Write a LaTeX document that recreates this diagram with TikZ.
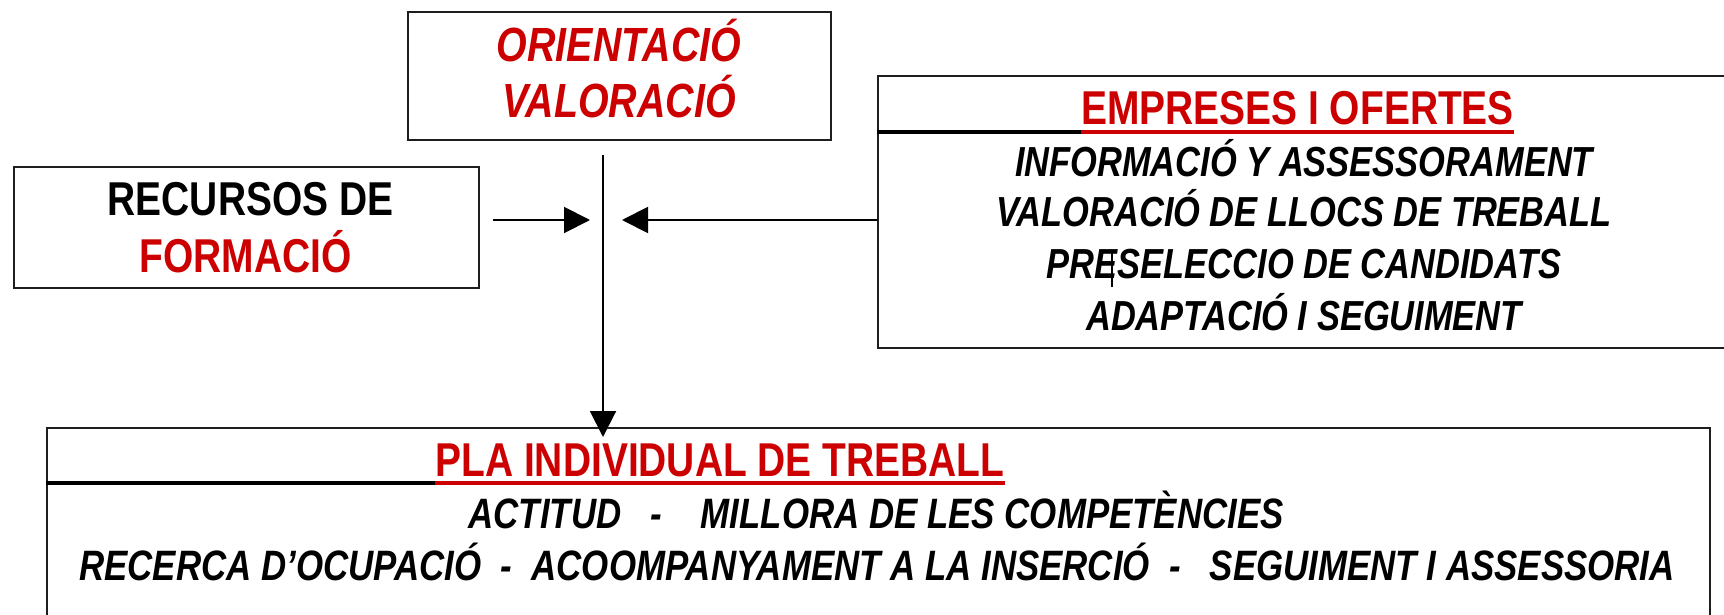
\documentclass[tikz,border=0pt]{standalone}
\usepackage{fontspec}
\setmainfont{Liberation Sans}[FakeStretch=0.82]
\usetikzlibrary{arrows.meta}
\definecolor{redt}{RGB}{204,0,0}
\definecolor{edge}{RGB}{30,30,30}
\tikzset{
  boxs/.style={draw=edge, line width=2pt, inner sep=0pt},
  big/.style={anchor=base, inner sep=0pt, font=\fontsize{47.5}{56}\selectfont\bfseries},
  bigit/.style={anchor=base, inner sep=0pt, font=\fontsize{48}{56}\selectfont\bfseries\itshape},
  body/.style={anchor=base, inner sep=0pt, font=\fontsize{42}{50}\selectfont\bfseries\itshape},
  bodyb/.style={anchor=base, inner sep=0pt, font=\fontsize{42.5}{50}\selectfont\bfseries\itshape},
  ulred/.style={draw=redt, line width=3.5pt},
  ulblk/.style={draw=black, line width=3.5pt},
  arr/.style={draw=black, line width=2pt, -{Triangle[length=26pt,width=26pt]}},
  conn/.style={draw=black, line width=2pt}
}
\begin{document}
\begin{tikzpicture}[x=1pt,y=-1pt]
\useasboundingbox (0,0) rectangle (1724,615);
\fill[white] (0,0) rectangle (1724,615);
\clip (0,0) rectangle (1724,615);

% ORIENTACIO box
\node[boxs, minimum width=423, minimum height=128, anchor=north west] (ori) at (407,11) {};
\node[bigit, text=redt] (ori1) at (619,61.7) {ORIENTACIÓ};
\node[bigit, text=redt] (ori2) at (619,118) {VALORACIÓ};

% RECURSOS box
\node[boxs, minimum width=465, minimum height=121, anchor=north west] (rec) at (13,166) {};
\node[big] (rec1) at (250.5,215) {RECURSOS DE};
\node[big, text=redt] (rec2) at (245.5,272.7) {FORMACIÓ};

% EMPRESES box
\node[boxs, minimum width=860, minimum height=272, anchor=north west] (emp) at (877,75) {};
\node[big, text=redt] (emh) at (1297.5,125) {EMPRESES I OFERTES};
\coordinate (emuw) at ([yshift=-7pt]emh.base west);
\coordinate (emue) at ([yshift=-7pt]emh.base east);
\draw[ulblk] (emp.west |- emuw) -- (emuw);
\draw[ulred] (emuw) -- (emue);
\node[body] (e1) at (1304,176.7) {INFORMACIÓ Y ASSESSORAMENT};
\node[body] (e2) at (1304,226.7) {VALORACIÓ DE LLOCS DE TREBALL};
\node[body] (e3) at (1304,278) {PRE\makebox[0pt][r]{\rule[-9pt]{1.5pt}{36pt}\hspace{5pt}}SELECCIO DE CANDIDATS};
\node[body] (e4) at (1304,330) {ADAPTACIÓ I SEGUIMENT};

% PLA box
\node[boxs, minimum width=1663, minimum height=240, anchor=north west] (pla) at (46,427) {};
\node[big, text=redt] (plh) at (720,476) {PLA INDIVIDUAL DE TREBALL};
\coordinate (pluw) at ([yshift=-7pt]plh.base west);
\coordinate (plue) at ([yshift=-7pt]plh.base east);
\draw[ulblk] (pla.west |- pluw) -- (pluw);
\draw[ulred] (pluw) -- (plue);
\node[bodyb] (p1) at (876,528.3) {ACTITUD~~~-~~~~MILLORA DE LES COMPETÈNCIES};
\node[bodyb] (p2) at (877,580) {RECERCA D’OCUPACIÓ~~-~~ACOOMPANYAMENT A LA INSERCIÓ~~-~~~SEGUIMENT I ASSESSORIA};

% connectors
\coordinate (vtop) at (603,155);
\coordinate (vend) at (603,437);
\coordinate (lstart) at (493,220);
\coordinate (lend) at (590,220);
\coordinate (rend) at (622,220);
\draw[arr] (vtop) -- (vend);
\draw[arr] (lstart) -- (lend);
\draw[arr] (emp.west |- rend) -- (rend);
\end{tikzpicture}
\end{document}
